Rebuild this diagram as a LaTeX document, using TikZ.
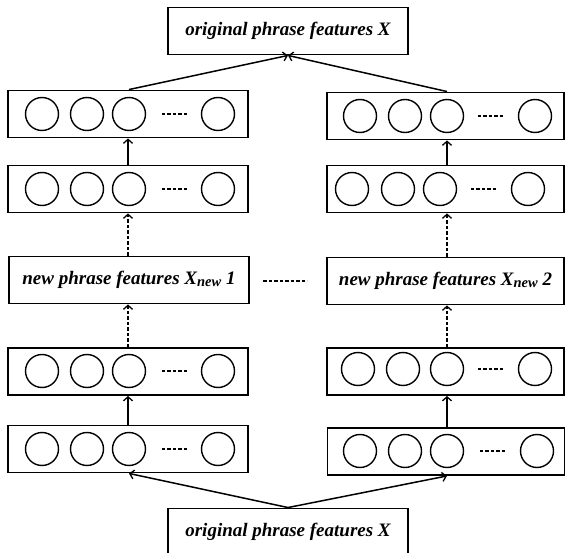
\documentclass[tikz,border=0pt]{standalone}
\usepackage{fontspec}
\setmainfont{Liberation Serif}
\usetikzlibrary{arrows.meta}
\newcommand{\lbl}{\fontsize{19}{21}\selectfont\bfseries\itshape}
\newcommand{\subnew}{\raisebox{-1.5pt}{\fontsize{14.5}{14.5}\selectfont new}}
\begin{document}
\begin{tikzpicture}[x=1pt,y=-1pt,
  box/.style={draw,line width=1.9pt,rectangle,inner sep=0pt,minimum width=240pt,minimum height=47pt},
  rbox/.style={box,minimum width=237pt},
  tbox/.style={box,font=\lbl},
  unit/.style={draw,circle,line width=1.4pt,inner sep=0pt,minimum size=33pt},
  dots/.style={line width=2.2pt,dash pattern=on 3.3pt off 2.1pt},
  arr/.style={line width=1.5pt,-{Straight Barb[length=4pt,width=9pt,line width=1.3pt]}},
  darr/.style={arr,dash pattern=on 3.5pt off 2pt},
]
\useasboundingbox (0,0) rectangle (565,553);

% top and bottom boxes
\node[tbox] (T) at (288,31) {original phrase features X};
\node[tbox] (B) at (288,532) {original phrase features X};

% new phrase feature boxes
\node[tbox] (NL) at (129,280) {new phrase features X\subnew\ 1};
\node[tbox,minimum width=237pt] (NR) at (445.5,281) {new phrase features X\subnew\ 2};
\coordinate (d1) at (263,281);
\coordinate (d2) at (307,281);
\draw[dots,dash pattern=on 3.5pt off 2pt] (d1) -- (d2);

% left column rows
\node[box] (L1) at (128,114) {};
\node[box] (L2) at (128,189) {};
\node[box] (L3) at (128,371.5) {};
\node[box] (L4) at (128,449) {};
\foreach \r/\y in {L1/114,L2/189,L3/371,L4/449}{
  \node[unit] (\r a) at (42,\y) {};
  \node[unit] (\r b) at (87,\y) {};
  \node[unit] (\r c) at (129,\y) {};
  \node[unit] (\r d) at (218,\y) {};
  \coordinate (\r p) at (162,\y);
  \coordinate (\r q) at (187,\y);
  \draw[dots] (\r p) -- (\r q);
}

% right column rows
\node[rbox] (R1) at (445.5,116) {};
\node[rbox] (R2) at (445.5,189) {};
\node[rbox] (R3) at (445.5,371.5) {};
\node[rbox] (R4) at (446,451.5) {};
\foreach \r/\y/\a/\b/\c/\d/\p in {R1/116/360/405/447/535/478,R2/189/352/398/440/528/471,R3/369/358/403/447/535/478,R4/451/360/405/447/537/480}{
  \node[unit] (\r a) at (\a,\y) {};
  \node[unit] (\r b) at (\b,\y) {};
  \node[unit] (\r c) at (\c,\y) {};
  \node[unit] (\r d) at (\d,\y) {};
  \coordinate (\r p) at (\p,\y);
  \coordinate (\r q) at ({\p+26},\y);
  \draw[dots] (\r p) -- (\r q);
}

% connectors
\draw[arr] (L1.north -| L1c) -- (T.south);
\draw[arr] (R1.north -| R1c) -- (T.south);
\draw[arr] (L2.north) -- (L1.south);
\draw[arr] (R2.north -| R1c) -- (R1.south -| R1c);
\draw[darr] (NL.north -| L2.south) -- (L2.south);
\draw[darr] (NR.north -| R1c) -- (R2.south -| R1c);
\draw[darr] (L3.north) -- (NL.south -| L3.north);
\draw[darr] (R3.north -| R3c) -- (NR.south -| R3c);
\draw[arr] (L4.north) -- (L3.south);
\draw[arr,line width=1.1pt] (R4.north -| R4c) -- (R3.south -| R4c);
\draw[arr] (B.north) -- (L4.south -| L4c);
\draw[arr] (B.north) -- (R4.south -| R4c);
\end{tikzpicture}
\end{document}
